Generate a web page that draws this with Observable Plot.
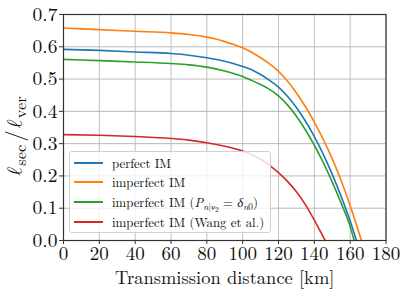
<!DOCTYPE html>
<html><head><meta charset="utf-8">
<script src="https://cdn.jsdelivr.net/npm/d3@7"></script>
<script src="https://cdn.jsdelivr.net/npm/@observablehq/plot@0.6"></script>
<style>
body{margin:0;background:#fff}
#wrap{position:relative;width:407px;height:297px}
svg, svg text{font-family:'Latin Modern Roman','Liberation Serif',serif}
#legend{position:absolute;left:69px;top:151px;width:202px;box-sizing:border-box;border:1px solid #d0d0d0;border-radius:3px;background:rgba(255,255,255,0.8);padding:1px 0;font-family:'Latin Modern Roman','Liberation Serif',serif;font-size:12.8px;color:#111}
.row{display:flex;align-items:center;height:19.6px;white-space:nowrap}
.sw{width:29px;height:0;border-top:2px solid;margin-left:4px;margin-right:9px}
sub{font-size:0.72em;line-height:0;vertical-align:-0.28em}
sub sub{font-size:0.8em}
</style>
</head><body><div id="wrap"><div id="chart"></div><div id="legend"></div></div>
<script>
// ---- data ----
const seriesKeys = ["perfect", "imperfect", "delta", "wang"];
const seriesLabels = [
  "perfect IM",
  "imperfect IM",
  "imperfect IM (<i>P</i><sub><i>n</i>|<i>ν</i><sub>2</sub></sub> = <i>δ</i><sub><i>n</i>0</sub>)",
  "imperfect IM (Wang et al.)"
];
const km_perfect    = [0, 20, 40, 60, 70, 80, 90, 100, 105, 110, 115, 120, 125, 130, 135, 140, 145, 150, 155, 160, 163.5];
const ratio_perfect = [0.592, 0.589, 0.584, 0.579, 0.574, 0.566, 0.555, 0.539, 0.529, 0.514, 0.496, 0.475, 0.447, 0.412, 0.370, 0.322, 0.267, 0.205, 0.136, 0.060, 0];
const km_imperfect    = [0, 20, 40, 60, 70, 80, 85, 90, 95, 100, 105, 110, 115, 120, 125, 130, 135, 140, 145, 150, 155, 160, 166.3];
const ratio_imperfect = [0.658, 0.653, 0.648, 0.643, 0.638, 0.630, 0.624, 0.616, 0.607, 0.597, 0.583, 0.566, 0.547, 0.524, 0.494, 0.457, 0.415, 0.367, 0.313, 0.253, 0.185, 0.108, 0];
const km_delta    = [0, 20, 40, 60, 70, 80, 90, 100, 105, 110, 115, 120, 125, 130, 135, 140, 145, 150, 155, 160, 162.2];
const ratio_delta = [0.561, 0.557, 0.553, 0.548, 0.544, 0.537, 0.525, 0.508, 0.496, 0.483, 0.468, 0.448, 0.420, 0.385, 0.343, 0.295, 0.241, 0.181, 0.115, 0.043, 0];
const km_wang    = [0, 20, 40, 60, 70, 80, 90, 100, 105, 110, 115, 120, 125, 130, 135, 140, 143, 146.1];
const ratio_wang = [0.328, 0.326, 0.322, 0.316, 0.311, 0.303, 0.292, 0.277, 0.266, 0.252, 0.233, 0.210, 0.183, 0.151, 0.111, 0.063, 0.032, 0];
const xTicks = [0, 20, 40, 60, 80, 100, 120, 140, 160, 180];
const yTicks = [0, 0.1, 0.2, 0.3, 0.4, 0.5, 0.6, 0.7];
const xLabel = "Transmission distance [km]";
const yLabelParts = ["ℓ", "sec", "/", "ℓ", "ver"];
// ---- styles ----
const colors = ["#1f77b4", "#ff7f0e", "#2ca02c", "#d62728"];
const FONT = "'Latin Modern Roman','Liberation Serif',serif";
const MATH = "'Latin Modern Math','Latin Modern Roman','Liberation Serif',serif";

const kmBy = {perfect: km_perfect, imperfect: km_imperfect, delta: km_delta, wang: km_wang};
const ratioBy = {perfect: ratio_perfect, imperfect: ratio_imperfect, delta: ratio_delta, wang: ratio_wang};
const rows = seriesKeys.flatMap(k => kmBy[k].map((x, i) => ({series: k, km: x, ratio: ratioBy[k][i]})));

const chart = Plot.plot({
  width: 407, height: 297,
  marginLeft: 63, marginRight: 21.5, marginTop: 14, marginBottom: 57,
  style: {fontFamily: FONT, background: "#fff"},
  x: {domain: [0, 180]},
  y: {domain: [0, 0.7]},
  color: {domain: seriesKeys, range: colors},
  marks: [
    Plot.gridX(xTicks, {stroke: "#c0c0c0", strokeOpacity: 1, strokeWidth: 1}),
    Plot.gridY(yTicks, {stroke: "#b8b8b8", strokeOpacity: 1, strokeWidth: 1}),
    Plot.line(rows, {x: "km", y: "ratio", z: "series", stroke: "series", strokeWidth: 1.6, curve: "monotone-x", clip: true}),
    Plot.frame({stroke: "#333", strokeWidth: 1.2}),
    Plot.axisX({ticks: xTicks, tickSize: 4, tickPadding: 1.5, fontSize: 19, label: null, stroke: "#333", fill: "#111"}),
    Plot.axisY({ticks: yTicks, tickSize: 4, tickPadding: 2, fontSize: 19.5, label: null, tickFormat: d => d.toFixed(1), stroke: "#333", fill: "#111"}),
    Plot.text([xLabel], {frameAnchor: "bottom", dy: 38, fontSize: 18.5, lineAnchor: "middle", fill: "#111"})
  ]
});
document.getElementById("chart").append(chart);
d3.select(chart).selectAll("text").style("font-family", FONT);

// y-axis label with subscripts
const svg = d3.select(chart);
const yl = svg.append("text")
  .attr("transform", "translate(22,136) rotate(-90)")
  .attr("text-anchor", "middle")
  .attr("fill", "#111")
  .style("font-family", FONT);
yl.append("tspan").text(yLabelParts[0]).attr("font-size", 21.5).style("font-family", MATH);
yl.append("tspan").text(yLabelParts[1]).attr("font-size", 16.5).attr("dy", 3.5).attr("dx", 1);
yl.append("tspan").text(yLabelParts[2]).attr("font-size", 23).attr("dy", -3.5).attr("dx", 3);
yl.append("tspan").text(yLabelParts[3]).attr("font-size", 21.5).style("font-family", MATH).attr("dx", 2);
yl.append("tspan").text(yLabelParts[4]).attr("font-size", 16.5).attr("dy", 3.5).attr("dx", 1);

// legend
const lg = d3.select("#legend");
seriesKeys.forEach((k, i) => {
  const r = lg.append("div").attr("class", "row");
  r.append("div").attr("class", "sw").style("border-top-color", colors[i]);
  r.append("span").html(seriesLabels[i]);
});
</script>
</body></html>
